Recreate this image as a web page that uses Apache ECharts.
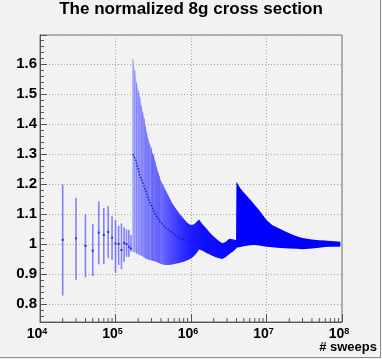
<!DOCTYPE html>
<html>
<head>
<meta charset="utf-8">
<script src="https://cdn.jsdelivr.net/npm/echarts@6/dist/echarts.min.js"></script>
<style>
  html, body { margin: 0; padding: 0; background: #f2f2f2; }
  #wrap { position: relative; width: 382px; height: 359px; }
  #chart { width: 382px; height: 359px; }
  #edge { position: absolute; left: 0; top: 0; width: 381px; height: 358px; box-sizing: border-box;
          border-right: 1px solid #8e8e8e; border-bottom: 1px solid #8e8e8e; pointer-events: none; }
</style>
</head>
<body>
<div id="wrap"><div id="chart"></div><div id="edge"></div></div>
<script>
// 归一化 8g 截面随扫描次数的变化（ROOT 风格图）

// 稀疏段：单独的误差棒
const sparseX    = [2e4, 3e4, 4e4, 5e4, 6e4, 7e4, 8e4, 9e4, 1e5, 1.1e5, 1.2e5, 1.3e5, 1.4e5, 1.5e5, 1.6e5];
const sparseMid  = [1.014, 1.019, 0.994, 0.978, 1.038, 1.030, 1.040, 1.021, 1.002, 1.000, 0.980, 1.004, 1.000, 0.991, 0.985];
const sparseLow  = [0.828, 0.881, 0.889, 0.893, 0.932, 0.933, 0.953, 0.947, 0.905, 0.930, 0.916, 0.940, 0.957, 0.957, 0.975];
const sparseHigh = [1.199, 1.154, 1.099, 1.066, 1.142, 1.120, 1.127, 1.093, 1.080, 1.061, 1.069, 1.055, 1.049, 1.047, 1.030];

// 密集段：误差带上下沿
const bandX = [1.7e5, 1.8e5, 1.9e5, 2.0e5, 2.1e5, 2.2e5, 2.3e5, 2.4e5, 2.5e5, 2.6e5, 2.7e5, 2.8e5,
               3.0e5, 3.1e5, 3.2e5, 3.35e5, 3.5e5, 3.65e5, 3.8e5, 4.0e5, 4.5e5, 5.0e5, 5.5e5, 6.0e5,
               7.0e5, 8.0e5, 9.0e5, 1.0e6, 1.1e6, 1.2e6, 1.28e6, 1.4e6, 1.6e6, 1.8e6, 2.0e6, 2.3e6,
               2.6e6, 2.9e6, 3.2e6, 3.6e6, 3.95e6, 4.0e6, 4.5e6, 5.0e6, 6.0e6, 7.0e6, 8.0e6, 1.0e7,
               1.2e7, 1.5e7, 2.0e7, 2.5e7, 3.0e7, 4.0e7, 5.0e7, 6.0e7, 7.0e7, 8.0e7, 9.5e7];
const bandHigh = [1.617, 1.580, 1.539, 1.513, 1.491, 1.463, 1.439, 1.419, 1.393, 1.371, 1.352, 1.336,
                  1.319, 1.302, 1.297, 1.277, 1.258, 1.241, 1.228, 1.210, 1.186, 1.163, 1.141, 1.126,
                  1.102, 1.084, 1.070, 1.063, 1.066, 1.075, 1.082, 1.068, 1.052, 1.036, 1.025, 1.012,
                  1.003, 1.008, 1.018, 1.016, 1.013, 1.208, 1.186, 1.172, 1.150, 1.130, 1.113, 1.080,
                  1.063, 1.051, 1.036, 1.026, 1.020, 1.015, 1.013, 1.012, 1.010, 1.009, 1.008];
const bandLow  = [0.974, 0.972, 0.968, 0.966, 0.963, 0.961, 0.958, 0.955, 0.952, 0.950, 0.948, 0.947,
                  0.945, 0.944, 0.943, 0.942, 0.940, 0.938, 0.936, 0.933, 0.930, 0.930, 0.931, 0.933,
                  0.937, 0.941, 0.946, 0.952, 0.960, 0.972, 0.982, 0.978, 0.970, 0.964, 0.958, 0.953,
                  0.950, 0.957, 0.966, 0.975, 0.984, 0.988, 0.990, 0.993, 0.996, 0.997, 0.995, 0.991,
                  0.989, 0.987, 0.985, 0.984, 0.983, 0.985, 0.988, 0.990, 0.991, 0.991, 0.991];

// 中心值（带内可见部分）
const midX = [1.7e5, 1.85e5, 2.1e5, 2.45e5, 2.85e5, 3.3e5, 3.9e5, 4.7e5, 5.8e5, 7.1e5, 8.7e5, 1.0e6, 1.15e6, 1.25e6];
const midY = [1.300, 1.280, 1.230, 1.186, 1.138, 1.104, 1.074, 1.052, 1.036, 1.019, 1.013, 1.006, 1.015, 1.036];

// 坐标轴
const Y_MIN = 0.74, Y_MAX = 1.697;
const xMinorTicks = [2e4, 3e4, 4e4, 5e4, 6e4, 7e4, 8e4, 9e4,
                     2e5, 3e5, 4e5, 5e5, 6e5, 7e5, 8e5, 9e5,
                     2e6, 3e6, 4e6, 5e6, 6e6, 7e6, 8e6, 9e6,
                     2e7, 3e7, 4e7, 5e7, 6e7, 7e7, 8e7, 9e7];

const FONT = 'Liberation Sans';

// 误差带：整体一个多边形，上沿正序 + 下沿倒序
function renderBand(params, api) {
  if (params.dataIndex !== 0) return null;
  const top = bandX.map((x, i) => api.coord([x, bandHigh[i]]));
  const bottom = bandX.map((x, i) => api.coord([x, bandLow[i]])).reverse();
  return {
    type: 'polygon',
    shape: { points: top.concat(bottom) },
    style: {
      fill: new echarts.graphic.LinearGradient(0, 0, 1, 0, [
        { offset: 0, color: '#c0c0ff' },
        { offset: 0.06, color: '#a4a4ff' },
        { offset: 0.13, color: '#7272ff' },
        { offset: 0.18, color: '#4e4eff' },
        { offset: 0.23, color: '#3232ff' },
        { offset: 0.28, color: '#1c1cff' },
        { offset: 0.35, color: '#0e0eff' },
        { offset: 0.49, color: '#0808ff' },
        { offset: 0.5, color: '#0000ff' },
        { offset: 1, color: '#0000ff' }
      ])
    }
  };
}

function renderSparse(params, api) {
  const x = api.value(0);
  const mid = api.coord([x, api.value(1)]);
  const lo = api.coord([x, api.value(2)]);
  const hi = api.coord([x, api.value(3)]);
  return {
    type: 'group',
    children: [
      { type: 'line', shape: { x1: lo[0], y1: lo[1], x2: hi[0], y2: hi[1] },
        style: { stroke: 'rgba(40,40,255,0.55)', lineWidth: 1.6 } },
      { type: 'rect', shape: { x: mid[0] - 1, y: mid[1] - 1, width: 2, height: 2 },
        style: { fill: '#2a2aee' } }
    ]
  };
}

function renderBandBar(params, api) {
  const x = api.value(0);
  const lo = api.coord([x, api.value(1)]);
  const hi = api.coord([x, api.value(2)]);
  return { type: 'line', shape: { x1: lo[0], y1: lo[1], x2: hi[0], y2: hi[1] },
           style: { stroke: 'rgba(60,60,240,0.45)', lineWidth: 1 } };
}

function renderMinorTick(params, api) {
  const p = api.coord([api.value(0), Y_MIN]);
  return { type: 'line', shape: { x1: p[0], y1: p[1], x2: p[0], y2: p[1] - 4 },
           style: { stroke: '#555', lineWidth: 1 } };
}

const bandData = bandX.map((x, i) => [x, bandLow[i], bandHigh[i]]);
const sparseData = sparseX.map((x, i) => [x, sparseMid[i], sparseLow[i], sparseHigh[i]]);
const bandBarData = bandData.filter(d => d[0] < 4e5);

const chart = echarts.init(document.getElementById('chart'), null, { renderer: 'canvas' });
chart.setOption({
  backgroundColor: '#f2f2f2',
  animation: false,
  title: {
    text: 'The normalized 8g cross section',
    left: 'center', top: 1, padding: 0,
    textStyle: { fontFamily: FONT, fontWeight: 'bold', fontSize: 17, color: '#000' }
  },
  graphic: [{
    type: 'text', right: 5, top: 341,
    style: { text: '# sweeps', fontFamily: FONT, fontWeight: 'bold', fontSize: 13, fill: '#000' }
  }],
  grid: { left: 40, right: 40, top: 35, bottom: 37, show: true, borderColor: '#707070', borderWidth: 1 },
  xAxis: {
    type: 'log', logBase: 10, min: 1e4, max: 1e8,
    axisLine: { lineStyle: { color: '#555' } },
    axisTick: { inside: true, length: 8, lineStyle: { color: '#555' } },
    splitLine: { show: true, lineStyle: { color: '#a6a6a6', type: [1, 2] } },
    axisLabel: {
      margin: 5, color: '#000',
      formatter: v => '10{sup|' + Math.round(Math.log10(v)) + '}{sp|}',
      fontFamily: FONT, fontWeight: 'bold', fontSize: 14,
      rich: {
        sup: { fontFamily: FONT, fontWeight: 'bold', fontSize: 9, verticalAlign: 'top', padding: [0, 0, 6, 0] },
        sp: { width: 6 }
      }
    }
  },
  yAxis: {
    type: 'value', min: Y_MIN, max: Y_MAX, splitNumber: 10,
    axisLine: { lineStyle: { color: '#555' } },
    axisTick: { inside: true, length: 7, lineStyle: { color: '#555' } },
    minorTick: { show: true, splitNumber: 5, length: 4, lineStyle: { color: '#555' } },
    splitLine: { show: true, lineStyle: { color: '#a6a6a6', type: [1, 2] } },
    axisLabel: {
      margin: 3, color: '#000', showMinLabel: false, showMaxLabel: false,
      fontFamily: FONT, fontWeight: 'bold', fontSize: 15
    }
  },
  series: [
    {
      type: 'custom', silent: true, renderItem: renderBand,
      data: bandData, encode: { x: 0, y: [1, 2] }
    },
    {
      type: 'custom', silent: true, renderItem: renderBandBar,
      data: bandBarData, encode: { x: 0, y: [1, 2] }
    },
    {
      type: 'custom', silent: true, renderItem: renderSparse,
      data: sparseData, encode: { x: 0, y: [1, 2, 3] }
    },
    {
      type: 'line', silent: true, showSymbol: false,
      data: midX.map((x, i) => [x, midY[i]]),
      lineStyle: { color: '#1a1ad6', width: 1.5, type: [1.5, 1.5] }
    },
    {
      type: 'custom', silent: true, renderItem: renderMinorTick,
      data: xMinorTicks.map(v => [v]), encode: { x: 0 }
    }
  ]
});
</script>
</body>
</html>
